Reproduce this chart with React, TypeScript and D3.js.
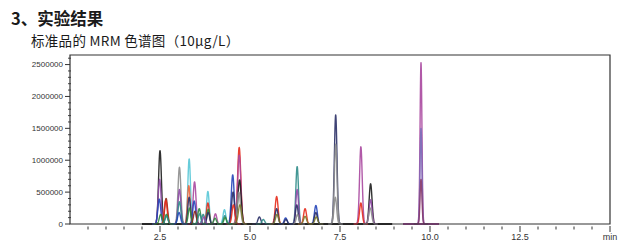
import React from "react";
import * as d3 from "d3";

// ---- data ----
const titleText = "3、实验结果";
const subtitleText = "标准品的 MRM 色谱图（10μg/L）";

const xMajorTicks = [2.5, 5.0, 7.5, 10.0, 12.5, 15];
const xMajorLabels = ["2.5", "5.0", "7.5", "10.0", "12.5", "min"];
const yMajorTicks = [0, 500000, 1000000, 1500000, 2000000, 2500000];
const yMajorLabels = ["0", "500000", "1000000", "1500000", "2000000", "2500000"];

// retention time (min), height (counts), sigma (min), series colour key
const peakTimes = [
  2.50, 2.49, 2.48, 2.52, 2.67, 2.66, 2.68, 2.68,
  3.04, 3.04, 3.04, 3.03,
  3.31, 3.30, 3.31, 3.32,
  3.46, 3.45, 3.47,
  3.59, 3.60, 3.70, 3.72,
  3.83, 3.83, 3.84, 3.84,
  4.04, 4.03, 4.29, 4.30, 4.31,
  4.52, 4.53, 4.54,
  4.70, 4.70, 4.71, 4.69, 4.72,
  5.26, 5.37, 5.74, 5.74, 5.75, 5.99, 6.00,
  6.31, 6.31, 6.30, 6.32,
  6.53, 6.53,
  6.83, 6.83, 6.84,
  7.38, 7.38, 7.37,
  8.08, 8.08,
  8.35, 8.35, 8.34,
  9.75, 9.75, 9.75,
];
const peakHeights = [
  1150000, 700000, 390000, 150000, 400000, 370000, 150000, 120000,
  890000, 540000, 350000, 180000,
  1020000, 600000, 420000, 250000,
  660000, 360000, 200000,
  240000, 160000, 150000, 110000,
  510000, 330000, 230000, 180000,
  160000, 90000, 225000, 130000, 100000,
  770000, 500000, 300000,
  1200000, 1080000, 690000, 500000, 300000,
  110000, 70000, 430000, 240000, 150000, 95000, 70000,
  900000, 540000, 300000, 150000,
  240000, 120000,
  290000, 180000, 110000,
  1710000, 1250000, 420000,
  1210000, 330000,
  630000, 380000, 250000,
  2530000, 1500000, 700000,
];
const peakSigmas = [
  0.04, 0.04, 0.04, 0.04, 0.04, 0.04, 0.04, 0.04,
  0.04, 0.04, 0.04, 0.04,
  0.037, 0.037, 0.037, 0.037,
  0.04, 0.04, 0.04,
  0.04, 0.04, 0.037, 0.037,
  0.037, 0.037, 0.037, 0.037,
  0.037, 0.037, 0.037, 0.037, 0.037,
  0.04, 0.04, 0.04,
  0.045, 0.045, 0.045, 0.045, 0.045,
  0.04, 0.04, 0.04, 0.04, 0.04, 0.04, 0.04,
  0.037, 0.037, 0.037, 0.037,
  0.04, 0.04,
  0.04, 0.04, 0.04,
  0.037, 0.037, 0.037,
  0.037, 0.037,
  0.04, 0.04, 0.04,
  0.026, 0.026, 0.026,
];
const peakSeries = [
  "black", "purple", "blue", "green", "brown", "red", "green", "teal",
  "gray", "purple", "teal", "blue",
  "cyan", "orange", "navy", "green",
  "magenta", "blue", "brown",
  "green", "teal", "teal", "purple",
  "cyan", "red", "green", "navy",
  "magenta", "green", "cyan", "teal", "green",
  "blue", "navy", "red",
  "red", "magenta", "black", "gray", "olive",
  "navy", "teal", "red", "navy", "olive", "blue", "navy",
  "teal", "purple", "navy", "gray",
  "red", "olive",
  "blue", "navy", "olive",
  "navy", "gray", "gray",
  "magenta", "red",
  "black", "purple", "gray",
  "magenta", "slate", "plum",
];

// acquisition windows (baseline segments)
const segStarts = [2.0, 9.25];
const segEnds = [8.95, 10.25];
const segSeries = ["black", "magenta"];

const palette: Record<string, string> = {
  black: "#1c1c1c",
  navy: "#2a2f66",
  blue: "#2444b8",
  red: "#e52a1a",
  orange: "#f0643a",
  teal: "#2f8c88",
  cyan: "#56c6d6",
  purple: "#8e4aa6",
  magenta: "#a8479e",
  gray: "#8c8c8c",
  green: "#2f8a3c",
  brown: "#8a2a18",
  olive: "#7c7a2a",
  slate: "#7a6ab8",
  plum: "#8a3a6a",
};

const W = 639;
const H = 249;
const m = { left: 70, right: 610, top: 55, bottom: 224 };

export default function App() {
  const x = d3.scaleLinear().domain([0, 15]).range([m.left, m.right]);
  const y = d3.scaleLinear().domain([0, 2650000]).range([m.bottom, m.top]);
  const line = d3
    .line<[number, number]>()
    .x((d) => x(d[0]))
    .y((d) => y(d[1]));

  const order = d3.range(peakTimes.length).sort((a, b) => peakHeights[b] - peakHeights[a]);

  const peakPath = (i: number) => {
    const rt = peakTimes[i];
    const s = peakSigmas[i];
    const h = peakHeights[i];
    const pts: [number, number][] = [];
    const lo = rt - 0.2;
    const hi = rt + 0.2;
    for (let t = lo; t <= hi + 1e-9; t += 0.004) {
      pts.push([t, h * Math.exp(-0.5 * ((t - rt) / s) ** 2)]);
    }
    return line(pts) || "";
  };

  const xMinor = d3.range(0.5, 15, 0.5).filter((v) => !xMajorTicks.some((t) => Math.abs(t - v) < 1e-6));
  const yMinor = d3.range(0, 2650001, 100000).filter((v) => v % 500000 !== 0);

  const axisColor = "#333";
  const fontLatin = "'Liberation Sans', Arial, sans-serif";
  const fontCJK = "'Noto Sans CJK SC', 'Noto Sans', sans-serif";

  return (
    <svg
      width={W}
      height={H}
      style={{ position: "absolute", left: 0, top: 0, display: "block", background: "#fff" }}
    >
      <text x={11} y={25} fontFamily={fontCJK} fontWeight={700} fontSize={16.5} fill="#1a1a1a">
        {titleText}
      </text>
      <text x={31} y={46} fontFamily={fontCJK} fontSize={13.5} letterSpacing={0.3} fill="#1a1a1a">
        {subtitleText}
      </text>

      {/* baselines */}
      {segStarts.map((s, i) => (
        <path
          key={"seg" + i}
          d={line([[s, 0], [segEnds[i], 0]]) || ""}
          stroke={palette[segSeries[i]]}
          strokeWidth={1.8}
          fill="none"
        />
      ))}

      {/* peaks */}
      {order.map((i) => (
        <path
          key={"p" + i}
          d={peakPath(i)}
          stroke={palette[peakSeries[i]]}
          strokeWidth={1.4}
          strokeLinejoin="round"
          fill="none"
          opacity={0.9}
        />
      ))}

      {/* frame */}
      <path
        d={`M${m.left},${m.bottom}V${m.top}H${m.right}V${m.bottom}Z`}
        fill="none"
        stroke={axisColor}
        strokeWidth={1.2}
      />

      {/* y ticks */}
      {yMinor.map((v) => (
        <line key={"ym" + v} x1={m.left - 2} x2={m.left + 1} y1={y(v)} y2={y(v)} stroke={axisColor} strokeWidth={0.9} />
      ))}
      {yMajorTicks.map((v, i) => (
        <g key={"yM" + v}>
          <line x1={m.left - 5} x2={m.left} y1={y(v)} y2={y(v)} stroke={axisColor} strokeWidth={1} />
          <text
            x={m.left - 7}
            y={y(v)}
            dy="0.35em"
            textAnchor="end"
            fontFamily={fontLatin}
            fontSize={8}
            fill="#333"
          >
            {yMajorLabels[i]}
          </text>
        </g>
      ))}

      {/* x ticks */}
      {xMinor.map((v) => (
        <line key={"xm" + v} x1={x(v)} x2={x(v)} y1={m.bottom + 2.5} y2={m.bottom + 5.5} stroke={axisColor} strokeWidth={1} />
      ))}
      {xMajorTicks.map((v, i) => (
        <g key={"xM" + v}>
          <line x1={x(v)} x2={x(v)} y1={m.bottom + 2} y2={m.bottom + 8} stroke={axisColor} strokeWidth={1} />
          <text
            x={x(v)}
            y={m.bottom + 16}
            textAnchor="middle"
            fontFamily={fontLatin}
            fontSize={9}
            fill="#333"
          >
            {xMajorLabels[i]}
          </text>
        </g>
      ))}
    </svg>
  );
}
